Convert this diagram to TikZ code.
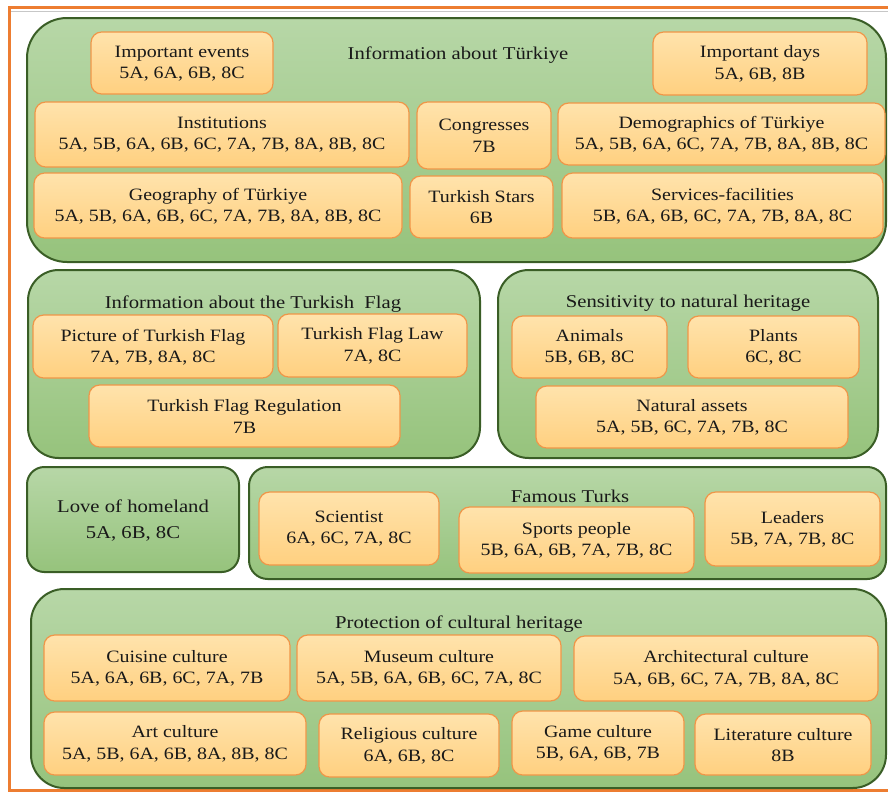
\documentclass[tikz,border=0pt]{standalone}
\usepackage{fontspec}
\setmainfont{Liberation Serif}[FakeStretch=1.15]
\usetikzlibrary{fit}

\definecolor{frameorange}{RGB}{237,125,49}
\definecolor{grptop}{RGB}{183,215,167}
\definecolor{grpbot}{RGB}{150,195,124}
\definecolor{grpedge}{RGB}{58,94,38}
\definecolor{boxtop}{RGB}{255,227,172}
\definecolor{boxbot}{RGB}{255,208,128}
\definecolor{boxedge}{RGB}{240,150,72}
\definecolor{ink}{RGB}{25,25,25}

\newcommand\lblfont{\fontsize{13}{16}\selectfont}
\newcommand\ttlfont{\fontsize{13.5}{16}\selectfont}

\tikzset{
  group/.style={draw=grpedge, line width=1.5pt, top color=grptop,
    bottom color=grpbot, inner sep=0pt},
  obox/.style={draw=boxedge, line width=0.9pt, top color=boxtop,
    bottom color=boxbot, rounded corners=8pt, inner sep=0pt},
  boxtxt/.style={align=center, font=\lblfont, text=ink, inner sep=0pt,
    yshift=-0.3pt},
  lbl/.style={label={[boxtxt]center:{#1}}},
  gtitle/.style={font=\ttlfont, text=ink, inner sep=0pt},
}

\begin{document}
\begin{tikzpicture}[x=0.75pt, y=-0.75pt]
\useasboundingbox (0,0) rectangle (888,796);
\fill[white] (0,0) rectangle (888,796);

% page frame
\draw[black!22, line width=1.4pt] (11,11.5) -- (888,11.5);
\draw[frameorange, line width=2.4pt] (888,7.5) -- (9.5,7.5) -- (9.5,790.5) -- (888,790.5);

% ---- Information about Türkiye
\node[group, rounded corners=30pt, fit={(27,18) (886,262)}] (g1) {};
\node[gtitle] (t1) at (458,55) {Information about Türkiye};
\node[obox, fit={(91,32) (273,94)}, lbl={Important events\\5A, 6A, 6B, 8C}] (evt) {};
\node[obox, fit={(653,32) (867,95)}, lbl={Important days\\5A, 6B, 8B}] (days) {};
\node[obox, fit={(35,102) (409,167)}, lbl={Institutions\\5A, 5B, 6A, 6B, 6C, 7A, 7B, 8A, 8B, 8C}] (inst) {};
\node[obox, fit={(417,102) (551,169)}, lbl={Congresses\\7B}] (cong) {};
\node[obox, fit={(558,103) (885,165)}, lbl={Demographics of Türkiye\\5A, 5B, 6A, 6C, 7A, 7B, 8A, 8B, 8C}] (demo) {};
\node[obox, fit={(34,173) (402,238)}, lbl={Geography of Türkiye\\5A, 5B, 6A, 6B, 6C, 7A, 7B, 8A, 8B, 8C}] (geo) {};
\node[obox, fit={(410,176) (553,238)}, lbl={Turkish Stars\\6B}] (stars) {};
\node[obox, fit={(562,173) (883,238)}, lbl={Services-facilities\\5B, 6A, 6B, 6C, 7A, 7B, 8A, 8C}] (serv) {};

% ---- Information about the Turkish Flag
\node[group, rounded corners=23pt, fit={(28,270) (480,458)}] (g2) {};
\node[gtitle] (t2) at (253,304) {Information about the Turkish~ Flag};
\node[obox, fit={(33,315) (273,378)}, lbl={Picture of Turkish Flag\\7A, 7B, 8A, 8C}] (pic) {};
\node[obox, fit={(278,314) (467,377)}, lbl={Turkish Flag Law\\7A, 8C}] (law) {};
\node[obox, fit={(89,385) (400,447)}, lbl={Turkish Flag Regulation\\7B}] (reg) {};

% ---- Sensitivity to natural heritage
\node[group, rounded corners=23pt, fit={(498,270) (878,458)}] (g3) {};
\node[gtitle] (t3) at (688,303) {Sensitivity to natural heritage};
\node[obox, fit={(512,316) (667,378)}, lbl={Animals\\5B, 6B, 8C}] (ani) {};
\node[obox, fit={(688,316) (859,378)}, lbl={Plants\\6C, 8C}] (pla) {};
\node[obox, fit={(536,386) (848,448)}, lbl={Natural assets\\5A, 5B, 6C, 7A, 7B, 8C}] (nat) {};

% ---- Love of homeland
\node[group, rounded corners=13pt, fit={(27,467) (239,572)},
  label={[boxtxt, font=\ttlfont, yshift=-0.5pt]center:{Love of homeland\\[3pt]5A, 6B, 8C}}] (love) {};

% ---- Famous Turks
\node[group, rounded corners=14pt, fit={(249,467) (886,579)}] (g4) {};
\node[gtitle] (t4) at (570,496) {Famous Turks};
\node[obox, fit={(259,492) (439,565)}, lbl={Scientist\\6A, 6C, 7A, 8C}] (sci) {};
\node[obox, fit={(459,507) (694,573)}, lbl={Sports people\\5B, 6A, 6B, 7A, 7B, 8C}] (spo) {};
\node[obox, fit={(705,492) (880,566)}, lbl={Leaders\\5B, 7A, 7B, 8C}] (lea) {};

% ---- Protection of cultural heritage
\node[group, rounded corners=25pt, fit={(31,589) (886,788)}] (g5) {};
\node[gtitle] (t5) at (459,624) {Protection of cultural heritage};
\node[obox, fit={(44,635) (290,701)}, lbl={Cuisine culture\\5A, 6A, 6B, 6C, 7A, 7B}] (cui) {};
\node[obox, fit={(297,635) (561,701)}, lbl={Museum culture\\5A, 5B, 6A, 6B, 6C, 7A, 8C}] (mus) {};
\node[obox, fit={(574,636) (878,701)}, lbl={Architectural culture\\5A, 6B, 6C, 7A, 7B, 8A, 8C}] (arc) {};
\node[obox, fit={(44,712) (306,775)}, lbl={Art culture\\5A, 5B, 6A, 6B, 8A, 8B, 8C}] (art) {};
\node[obox, fit={(319,714) (499,777)}, lbl={Religious culture\\6A, 6B, 8C}] (rel) {};
\node[obox, fit={(512,711) (684,775)}, lbl={Game culture\\5B, 6A, 6B, 7B}] (gam) {};
\node[obox, fit={(695,714) (871,775)}, lbl={Literature culture\\8B}] (lit) {};
\end{tikzpicture}
\end{document}
